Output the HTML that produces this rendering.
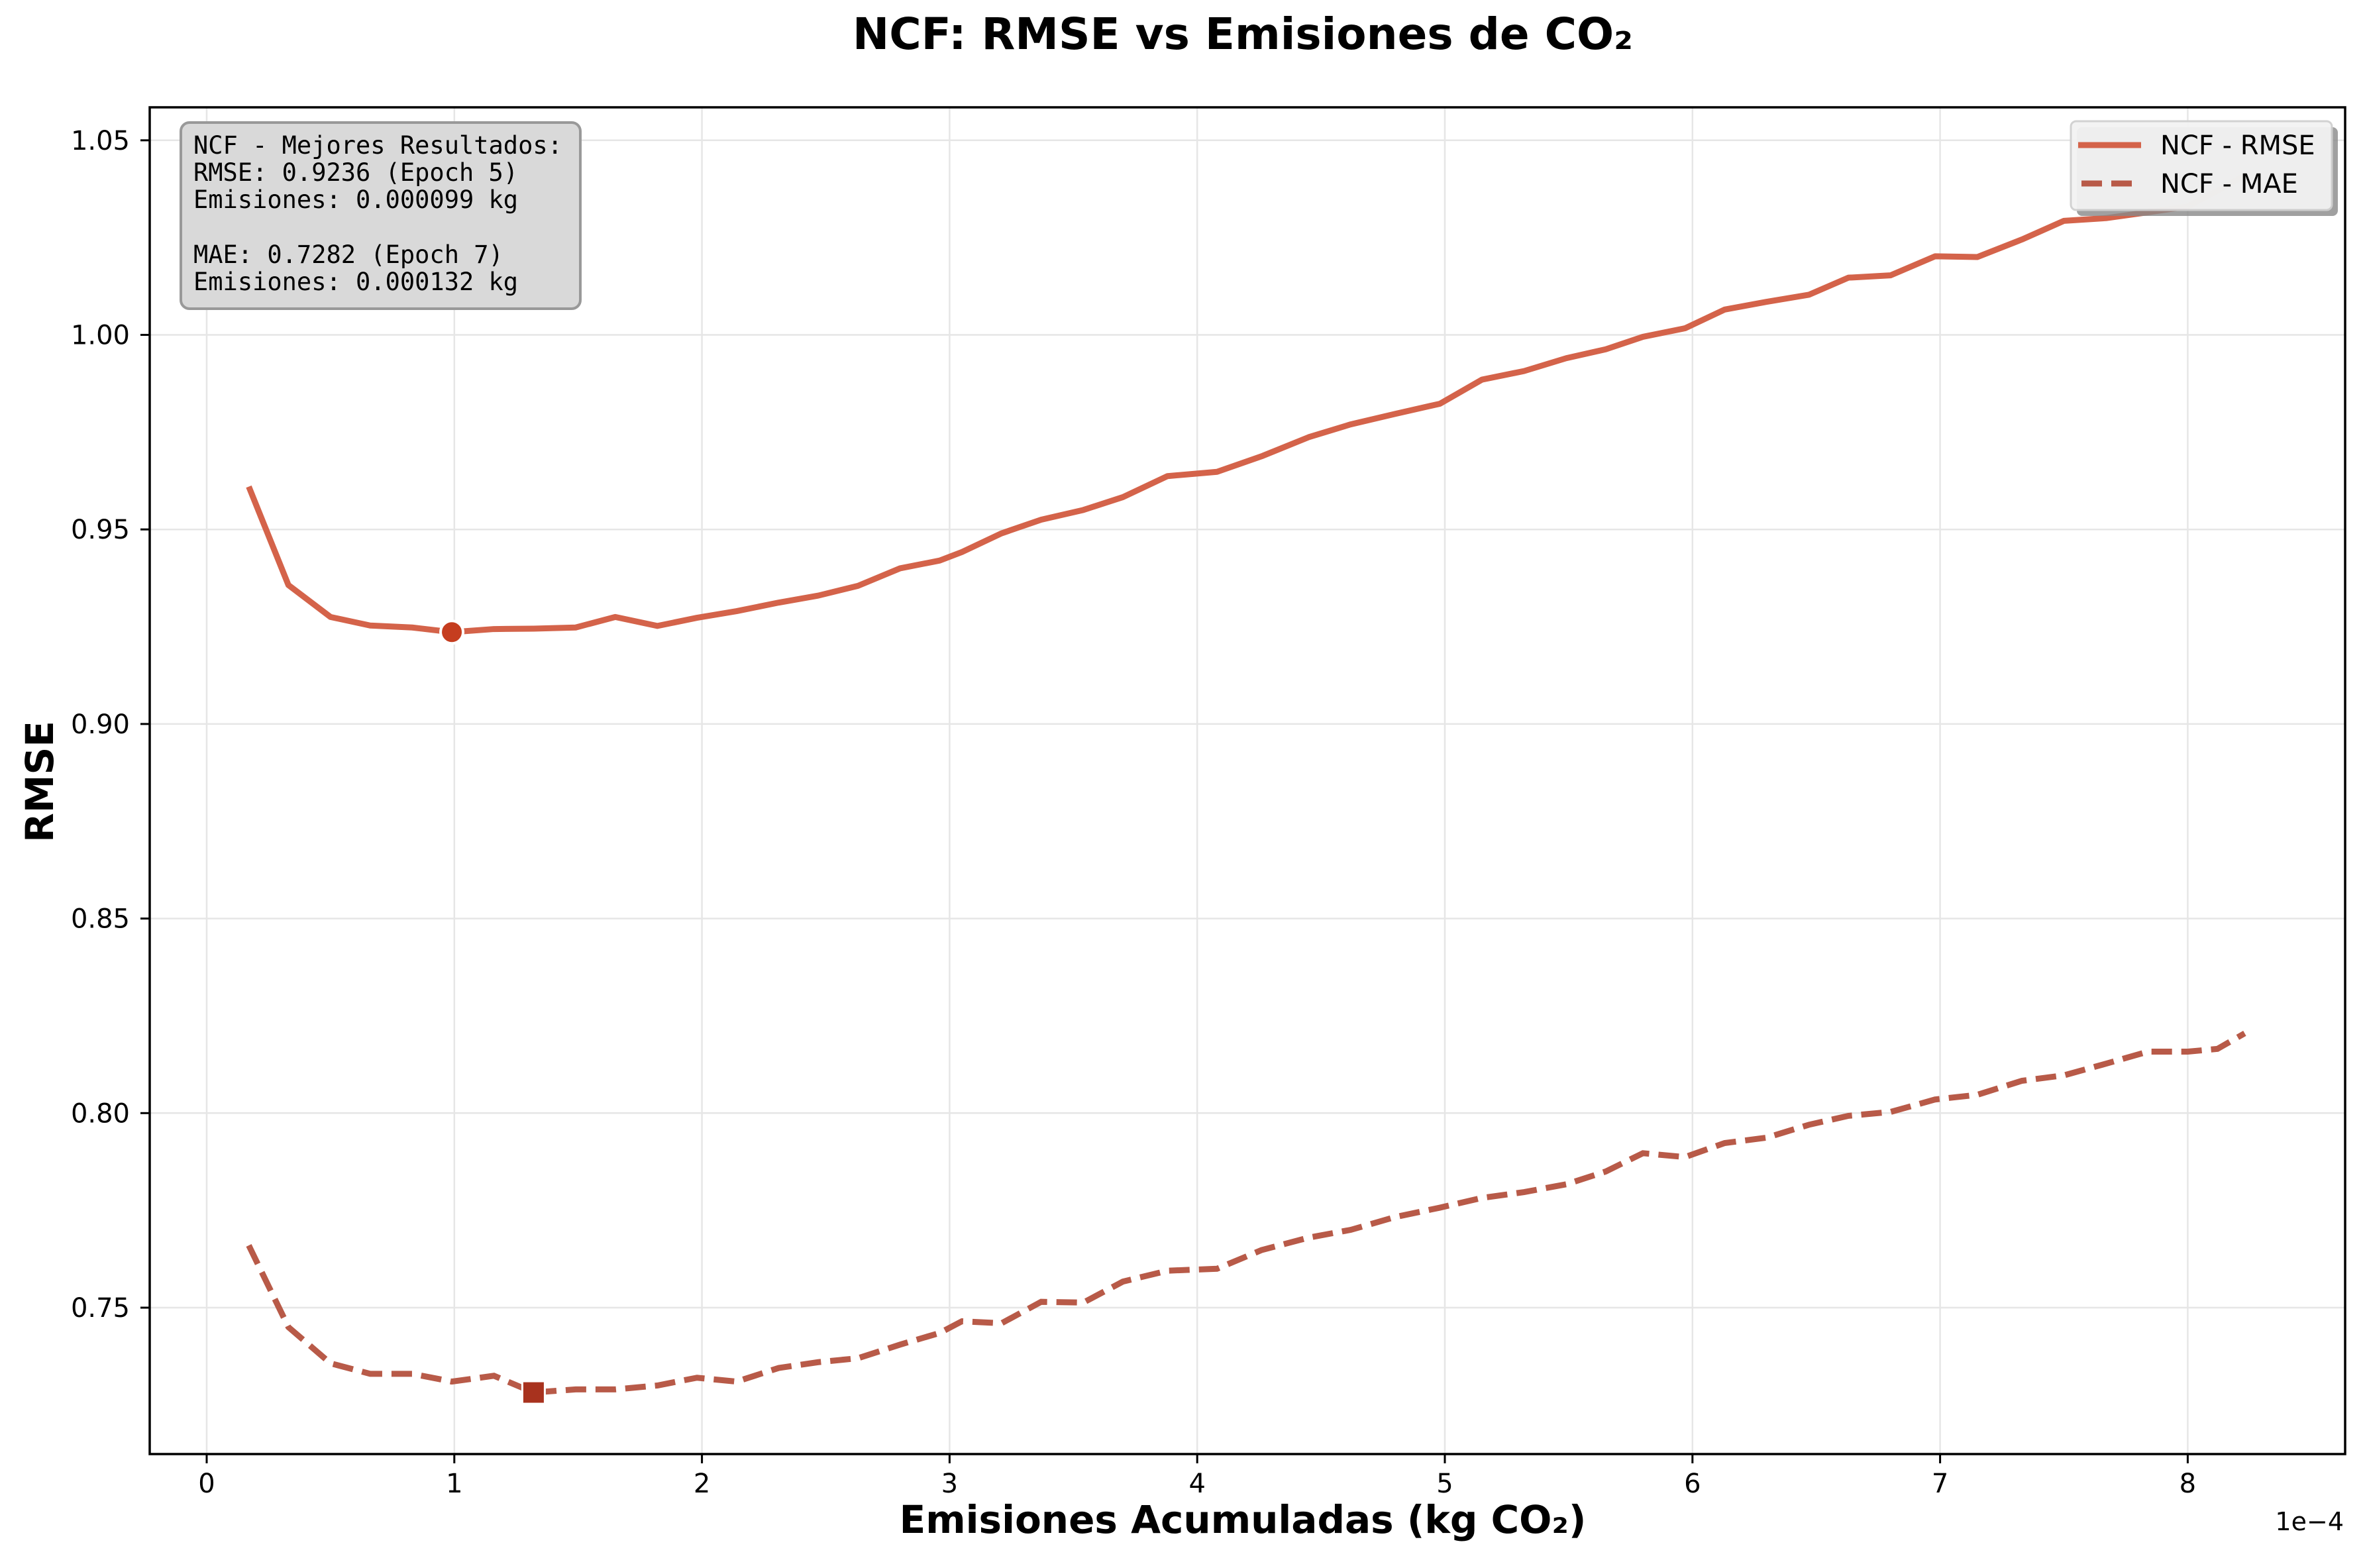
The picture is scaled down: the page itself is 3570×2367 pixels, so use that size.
<!DOCTYPE html>
<html><head><meta charset="utf-8"><style>
html,body{margin:0;padding:0;background:#fff;}
svg{display:block;font-family:"DejaVu Sans","Liberation Sans",sans-serif;}
</style></head><body>
<svg id="chart" width="3570" height="2367" viewBox="0 0 3570 2367">
<rect width="3570" height="2367" fill="#fff"/>
<text x="1876" y="74" text-anchor="middle" font-size="66" font-weight="bold">NCF: RMSE vs Emisiones de CO₂</text>
<g id="grid"></g>
<g id="plot"></g>
<rect x="226" y="162" width="3314" height="2033" fill="none" stroke="#000" stroke-width="3.5"/>
<g id="ticks"></g>
<text x="1876" y="2314" text-anchor="middle" font-size="58" font-weight="bold">Emisiones Acumuladas (kg CO₂)</text>
<text x="3538" y="2310" text-anchor="end" font-size="38">1e−4</text>
<text transform="translate(80,1180) rotate(-90)" text-anchor="middle" font-size="58" font-weight="bold">RMSE</text>
<g>
<rect x="273" y="185" width="603" height="281" rx="13" fill="#d9d9d9" stroke="#999" stroke-width="4"/>
<text font-family="'DejaVu Sans Mono','Liberation Mono',monospace" font-size="37" fill="#000">
<tspan x="292" y="232">NCF - Mejores Resultados:</tspan>
<tspan x="292" y="273">RMSE: 0.9236 (Epoch 5)</tspan>
<tspan x="292" y="314">Emisiones: 0.000099 kg</tspan>
<tspan x="292" y="397">MAE: 0.7282 (Epoch 7)</tspan>
<tspan x="292" y="438">Emisiones: 0.000132 kg</tspan>
</text>
</g>
<g>
<rect x="3135" y="192" width="394" height="134" rx="8" fill="#888" opacity="0.8"/>
<rect x="3126" y="183" width="394" height="134" rx="8" fill="#f3f3f3" stroke="#d0d0d0" stroke-width="3" opacity="0.95"/>
<line x1="3137" y1="219" x2="3232" y2="219" stroke="#d4634a" stroke-width="9"/>
<line x1="3142" y1="277" x2="3226" y2="277" stroke="#b85a48" stroke-width="9" stroke-dasharray="31,14"/>
<text x="3261" y="233" font-size="40">NCF - RMSE</text>
<text x="3261" y="291" font-size="40">NCF - MAE</text>
</g>
</svg>
<script>
const xs = [0.17,0.33,0.50,0.66,0.83,0.99,1.16,1.32,1.49,1.65,1.82,1.98,2.14,2.31,2.47,2.63,2.80,2.96,3.05,3.21,3.37,3.54,3.70,3.88,4.08,4.26,4.45,4.62,4.80,4.98,5.15,5.32,5.49,5.65,5.80,5.97,6.13,6.30,6.47,6.63,6.80,6.98,7.15,7.33,7.50,7.67,7.84,8.00,8.12,8.23];
const rmse = [0.961,0.9357,0.9275,0.9253,0.9248,0.9236,0.9244,0.9245,0.9248,0.9275,0.9252,0.9273,0.9290,0.9312,0.9330,0.9355,0.9400,0.9420,0.9442,0.9490,0.9525,0.9550,0.9583,0.9637,0.9648,0.9688,0.9737,0.9770,0.9797,0.9823,0.9885,0.9907,0.9940,0.9963,0.9995,1.0017,1.0065,1.0085,1.0103,1.0147,1.0153,1.0202,1.0200,1.0245,1.0293,1.0300,1.0315,1.033,1.037,1.041];
const mae = [0.766,0.745,0.7357,0.733,0.733,0.731,0.7325,0.7282,0.729,0.729,0.730,0.732,0.731,0.7345,0.736,0.737,0.7405,0.7435,0.7465,0.746,0.7515,0.7513,0.7567,0.7595,0.760,0.7648,0.768,0.770,0.7733,0.7757,0.7782,0.7797,0.7817,0.785,0.7897,0.7887,0.7923,0.7937,0.797,0.7993,0.8003,0.8035,0.8047,0.8083,0.8097,0.8127,0.8158,0.8158,0.8165,0.8205];
const xTicks = [0,1,2,3,4,5,6,7,8];
const yTicks = [0.75,0.80,0.85,0.90,0.95,1.00,1.05];
const bestRmseIdx = 5;
const bestMaeIdx = 7;

const NS = "http://www.w3.org/2000/svg";
const X = v => 312 + v * 373.8;
const Y = v => 1974 - (v - 0.75) / 0.05 * 293.7;
function mk(tag, attrs, parent){const e=document.createElementNS(NS,tag);for(const k in attrs)e.setAttribute(k,attrs[k]);parent.appendChild(e);return e;}
const grid=document.getElementById('grid'), plot=document.getElementById('plot'), ticks=document.getElementById('ticks');
xTicks.forEach(t=>{
  const g=mk('line',{x1:X(t),x2:X(t),y1:162,y2:2195,stroke:'#e6e6e6','stroke-width':2.5},grid);
  
  
  const tk=mk('line',{x1:X(t),x2:X(t),y1:2195,y2:2209,stroke:'#000','stroke-width':3},ticks);
  
  
  const tx=mk('text',{x:X(t),y:2253,'text-anchor':'middle','font-size':40},ticks);
  tx.textContent=String(t);
  
  
});
yTicks.forEach(t=>{
  const g=mk('line',{x1:226,x2:3540,y1:Y(t),y2:Y(t),stroke:'#e6e6e6','stroke-width':2.5},grid);
  
  
  const tk=mk('line',{x1:212,x2:226,y1:Y(t),y2:Y(t),stroke:'#000','stroke-width':3},ticks);
  
  
  const tx=mk('text',{x:196,y:Y(t)+14,'text-anchor':'end','font-size':40},ticks);
  tx.textContent=t.toFixed(2);
  
  
});
const pr=xs.map((x,i)=>X(x)+','+Y(rmse[i])).join(' ');
const l1=mk('polyline',{points:pr,fill:'none',stroke:'#d4634a','stroke-width':9,'stroke-linejoin':'round'},plot);


const pm=xs.map((x,i)=>X(x)+','+Y(mae[i])).join(' ');
const l2=mk('polyline',{points:pm,fill:'none',stroke:'#b85a48','stroke-width':9,'stroke-dasharray':'31,14'},plot);


const c=mk('circle',{cx:X(xs[bestRmseIdx]),cy:Y(rmse[bestRmseIdx]),r:17,fill:'#c53d1f',stroke:'#fff','stroke-width':4},plot);


const s=mk('rect',{x:X(xs[bestMaeIdx])-17,y:Y(mae[bestMaeIdx])-17,width:34,height:34,fill:'#a8321e',stroke:'#fff','stroke-width':3},plot);


</script>
</body></html>
